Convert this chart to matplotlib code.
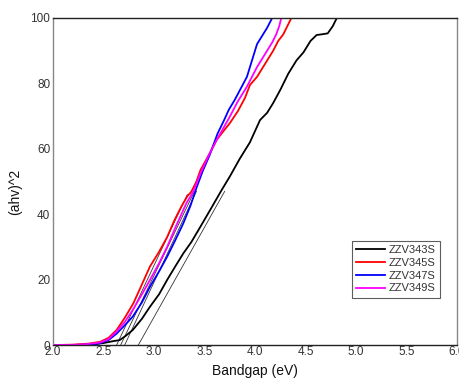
import matplotlib
matplotlib.use("Agg")
import matplotlib.pyplot as plt

plt.rcParams['font.family'] = ['Liberation Sans', 'DejaVu Sans']

labels = ["ZZV343S", "ZZV345S", "ZZV347S", "ZZV349S"]
colors = ["#000000", "#ff0000", "#0000ff", "#ff00ff"]

x343 = [2.0, 2.2, 2.4, 2.5, 2.6, 2.66, 2.72, 2.79, 2.88, 2.96, 3.05, 3.13, 3.21, 3.29, 3.37,
        3.46, 3.56, 3.67, 3.75, 3.85, 3.95, 4.05, 4.12, 4.18, 4.25, 4.33, 4.41, 4.48, 4.55,
        4.61, 4.66, 4.72, 4.77, 4.81]
y343 = [0, 0, 0.2, 0.6, 1.2, 1.5, 2.8, 4.6, 8, 11.7, 15.5, 19.9, 24, 28, 31.5,
        36.2, 41.5, 47.4, 51.5, 57, 62, 68.8, 71, 74, 78, 83, 87, 89.5, 93,
        94.8, 95, 95.3, 97.5, 100]

x345 = [2.0, 2.2, 2.35, 2.47, 2.55, 2.63, 2.71, 2.795, 2.88, 2.96, 3.05, 3.13, 3.20, 3.27,
        3.33, 3.37, 3.42, 3.46, 3.55, 3.62, 3.69, 3.75, 3.83, 3.90, 3.95, 4.02, 4.08, 4.13,
        4.18, 4.23, 4.28, 4.32, 4.36]
y345 = [0, 0.1, 0.4, 1.0, 2.2, 4.6, 8.3, 12.7, 18.5, 24, 28.5, 33, 38, 42.3,
        45.5, 46.9, 50, 53.5, 58.5, 62.7, 65.5, 67.8, 71.5, 75.5, 79.5, 82, 85, 87.5,
        90, 93, 95, 97.5, 100]

x347 = [2.0, 2.3, 2.45, 2.55, 2.63, 2.71, 2.79, 2.88, 2.96, 3.05, 3.13, 3.21, 3.29, 3.36,
        3.42, 3.48, 3.55, 3.63, 3.69, 3.74, 3.80, 3.86, 3.92, 3.97, 4.02, 4.07, 4.12, 4.17]
y347 = [0, 0.05, 0.4, 1.5, 3.5, 6, 8.7, 13, 17.8, 22.5, 27, 32, 37.2, 42.5,
        48, 53, 58, 64.7, 68.5, 71.9, 75, 78.5, 82, 87, 92, 94.5, 97, 100]

x349 = [2.0, 2.2, 2.35, 2.47, 2.55, 2.63, 2.71, 2.79, 2.88, 2.96, 3.05, 3.13, 3.22, 3.32,
        3.39, 3.46, 3.55, 3.62, 3.69, 3.75, 3.83, 3.92, 3.97, 4.02, 4.07, 4.12, 4.17, 4.21,
        4.24, 4.26]
y349 = [0, 0.05, 0.3, 0.8, 1.8, 4.2, 7, 10.7, 15.5, 19.9, 25, 30, 36.5, 43.3,
        47, 52.5, 58.5, 62.7, 66.5, 69.8, 74.5, 79, 82, 85, 87.5, 90, 92.5, 95,
        97.5, 100]

# tangent (Tauc extrapolation) lines: start (intercept) and end points
tan_x0 = [2.845, 2.63, 2.71, 2.67]
tan_x1 = [3.70, 3.33, 3.42, 3.40]
tan_y1 = [47, 46, 47, 47]

xs = [x343, x345, x347, x349]
ys = [y343, y345, y347, y349]

fig = plt.figure(figsize=(4.6, 3.79), dpi=100)
ax = fig.add_axes([53/460, 1-345/379, 404/460, 327/379])

for x0, x1, y1 in zip(tan_x0, tan_x1, tan_y1):
    ax.plot([x0, x1], [0, y1], color="#333333", lw=0.6, zorder=1)

for x, y, c, l in zip(xs, ys, colors, labels):
    ax.plot(x, y, color=c, lw=1.3, label=l, zorder=2)

ax.set_xlim(2.0, 6.0)
ax.set_ylim(0, 100)
ax.set_xticks([2.0, 2.5, 3.0, 3.5, 4.0, 4.5, 5.0, 5.5, 6.0])
ax.set_xticklabels(["2.0", "2.5", "3.0", "3.5", "4.0", "4.5", "5.0", "5.5", "6.0"])
ax.set_yticks([0, 20, 40, 60, 80, 100])
ax.tick_params(length=0, labelsize=8.5, colors="#333333", pad=1)
ax.tick_params(axis='y', pad=2)

for s in ["top", "bottom"]:
    ax.spines[s].set_color("#222222")
for s in ["left", "right"]:
    ax.spines[s].set_color("#888888")
for s in ax.spines.values():
    s.set_linewidth(1.0)

ax.set_xlabel("Bandgap (eV)", fontsize=10, color="#111111", va="top")
ax.xaxis.set_label_coords(0.5, -0.058)
ax.set_ylabel("(ahv)^2", fontsize=10, color="#111111")
ax.yaxis.set_label_coords(-0.077, 0.468)

leg = ax.legend(loc="lower left", bbox_to_anchor=(0.74, 0.144, 0.218, 0.186), fontsize=8,
                frameon=True, fancybox=False, edgecolor="#333333", handlelength=2.6,
                borderaxespad=0, labelspacing=0.25, handletextpad=0.3, borderpad=0.4)
leg.get_frame().set_linewidth(0.8)
for t in leg.get_texts():
    t.set_color("#333333")

fig.savefig("out.png", dpi=100)
